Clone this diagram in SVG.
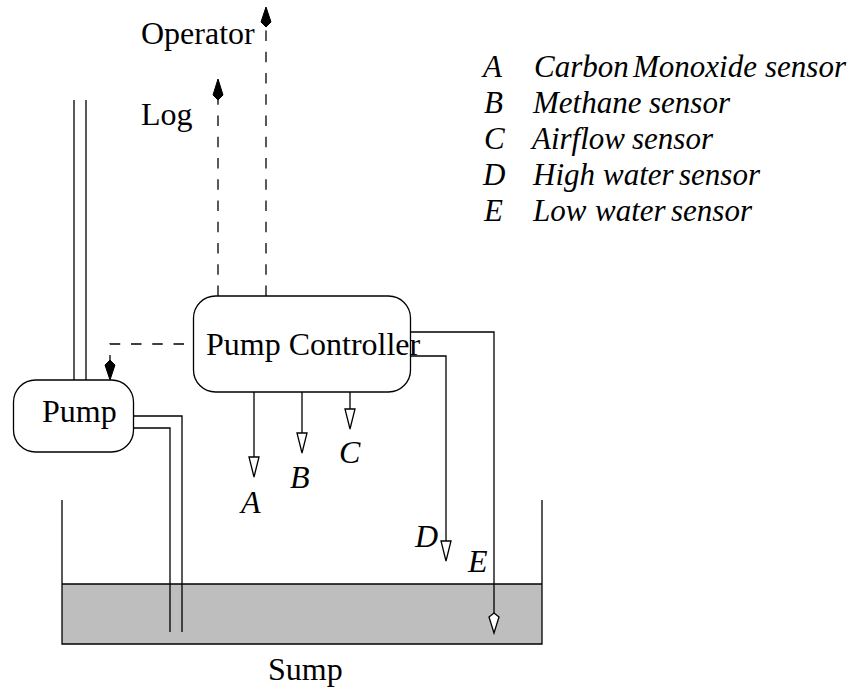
<svg xmlns="http://www.w3.org/2000/svg" width="855" height="687" viewBox="0 0 855 687">
<style>
text{font-family:"Liberation Serif","Times New Roman",serif;font-size:32px;fill:#000}
.i{font-style:italic}
.l{font-size:31px}
.w{fill:none;stroke:#000;stroke-width:1.3}
.d{stroke-dasharray:10.500 10.750}
.box{fill:#fff;stroke:#000;stroke-width:1.3}
.fa{fill:#000;stroke:#000;stroke-width:1}
.oa{fill:#fff;stroke:#000;stroke-width:1.3}
</style>
<rect width="855" height="687" fill="#fff"/>
<g id="sump">
<rect x="62" y="584" width="480" height="60" fill="#bebebe"/>
<path class="w" d="M62 500V644H542V500M62 584H542"/>
<text x="268" y="680">Sump</text>
</g>
<g id="connectors">
<path class="w" d="M74 100V380M86 100V380"/>
<path class="w" d="M134 416H182V632M134 428H170V632"/>
<path class="w" d="M254 392V457M302 392V433M350 392V409"/>
<path class="w" d="M410 356H446V541M410 332H494V614"/>
<path class="w d" d="M218 296V100"/>
<path class="w d" d="M266 296V27"/>
<path class="w d" d="M184 344H110V360"/>
<path class="fa" d="M266 7L271 22L266 27L261 22Z"/>
<path class="fa" d="M218 79L223 95L218 100L213 95Z"/>
<path class="fa" d="M110 380L105 365L110 360L115 365Z"/>
<path class="oa" d="M249 457H259L254 477Z"/>
<path class="oa" d="M297 433H307L302 453Z"/>
<path class="oa" d="M345 409H355L350 429Z"/>
<path class="oa" d="M441 541H451L446 561Z"/>
<path class="oa" d="M494 613L499 617L494 633L489 617Z"/>
</g>
<g id="pump-controller">
<rect class="box" x="193.500" y="296" width="217" height="96" rx="22"/>
<text x="206" y="355">Pump Controller</text>
</g>
<g id="pump">
<rect class="box" x="13.500" y="380" width="120" height="72" rx="22"/>
<text x="42" y="422">Pump</text>
</g>
<g id="labels">
<text x="141" y="44">Operator</text>
<text x="141" y="125">Log</text>
<text class="i" x="241" y="513">A</text>
<text class="i" x="290" y="488">B</text>
<text class="i" x="339" y="463">C</text>
<text class="i" x="415" y="547">D</text>
<text class="i" x="468" y="572">E</text>
</g>
<g id="legend">
<text class="i l" x="483" y="77">A</text>
<text class="i l" y="77"><tspan x="534">Carbon </tspan><tspan x="633">Monoxide </tspan><tspan x="765">sensor</tspan></text>
<text class="i l" x="484" y="113">B</text>
<text class="i l" y="113"><tspan x="533">Methane </tspan><tspan x="649">sensor</tspan></text>
<text class="i l" x="484" y="149">C</text>
<text class="i l" y="149"><tspan x="532">Airflow </tspan><tspan x="632">sensor</tspan></text>
<text class="i l" x="483" y="185">D</text>
<text class="i l" y="185"><tspan x="533">High </tspan><tspan x="603">water </tspan><tspan x="679">sensor</tspan></text>
<text class="i l" x="484" y="221">E</text>
<text class="i l" y="221"><tspan x="533">Low </tspan><tspan x="595">water </tspan><tspan x="671">sensor</tspan></text>
</g>
</svg>
